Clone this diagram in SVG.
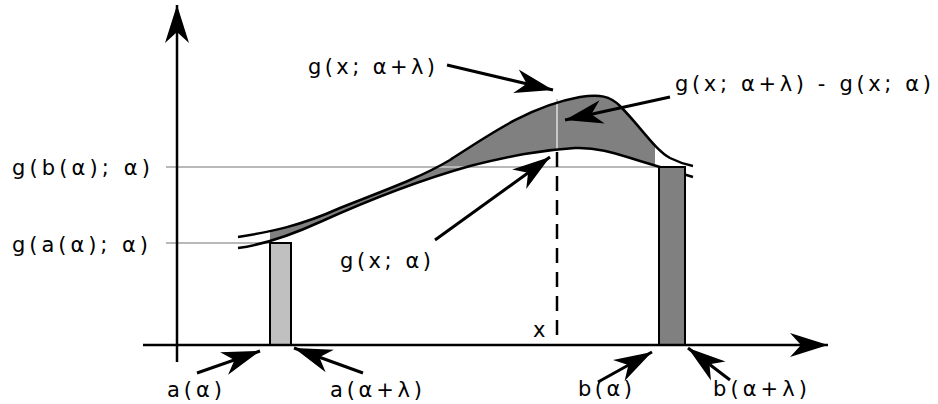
<svg xmlns="http://www.w3.org/2000/svg" width="938" height="404" viewBox="0 0 938 404">
<style>
.t{font-family:"DejaVu Sans","Liberation Sans",sans-serif;font-size:21px;fill:#000}
.guide{stroke:#b8b8b8;stroke-width:2;fill:none}
.curve{stroke:#000;stroke-width:2.5;fill:none}
.ax{stroke:#000;stroke-width:2.5;fill:none}
.arr{stroke:#000;stroke-width:3;fill:none;marker-end:url(#head)}
.bar{stroke:#000;stroke-width:2}
</style>
<defs>
<marker id="head" markerUnits="userSpaceOnUse" viewBox="-40 -14 41 28" refX="0" refY="0" markerWidth="41" markerHeight="28" orient="auto">
<path d="M0,0 L-38,-12 L-27,0 L-38,12 Z" fill="#000"/>
</marker>
<clipPath id="band"><rect x="270" y="80" width="385" height="200"/></clipPath>
</defs>
<g id="guides">
<line class="guide" x1="166" y1="243" x2="270" y2="243"/>
</g>
<g id="area">
<path clip-path="url(#band)" fill="#808080" d="M238,237 C270,232 300,226 340,208 C380,192 420,178 450,160 C490,134 530,106 580,97 C600,94 610,96 620,106 C640,126 655,150 670,158 C680,163 688,165 693,166 L693,177 C680,173 660,167 640,161 C620,155 600,147 575,148 C540,150 510,156 470,166 C420,180 360,204 320,222 C285,238 260,245 238,248 Z"/>
</g>
<g id="guides2">
<line class="guide" x1="166" y1="167" x2="659" y2="167"/>
<line stroke="#c8c8c8" stroke-width="2" x1="557" y1="99" x2="557" y2="151"/>
</g>
<g id="curve-upper">
<path class="curve" d="M238,237 C270,232 300,226 340,208 C380,192 420,178 450,160 C490,134 530,106 580,97 C600,94 610,96 620,106 C640,126 655,150 670,158 C680,163 688,165 693,166"/>
</g>
<g id="curve-lower">
<path class="curve" d="M238,248 C260,245 285,238 320,222 C360,204 420,180 470,166 C510,156 540,150 575,148 C600,147 620,155 640,161 C660,167 680,173 693,177"/>
</g>
<g id="bar-a">
<rect class="bar" x="270" y="243" width="21" height="102" fill="#c0c0c0"/>
</g>
<g id="bar-b">
<rect class="bar" x="659" y="167" width="26" height="178" fill="#808080"/>
</g>
<g id="x-line">
<line stroke="#000" stroke-width="2.5" stroke-dasharray="15 9" x1="557" y1="152" x2="557" y2="336"/>
</g>
<g id="axes">
<line class="ax" x1="177" y1="362" x2="177" y2="5" marker-end="url(#head)"/>
<line class="ax" x1="143" y1="345" x2="828" y2="345" marker-end="url(#head)"/>
</g>
<g id="connectors">
<line class="arr" x1="447" y1="65" x2="553" y2="90"/>
<line class="arr" x1="670" y1="97" x2="565" y2="120"/>
<line class="arr" x1="435" y1="240" x2="550" y2="157"/>
<line class="arr" x1="197" y1="373" x2="260" y2="351"/>
<line class="arr" x1="363" y1="373" x2="294" y2="348"/>
<line class="arr" x1="598" y1="382" x2="652" y2="352"/>
<line class="arr" x1="730" y1="380" x2="688" y2="348"/>
</g>
<g id="labels">
<text class="t" x="12" y="175" textLength="138" lengthAdjust="spacing">g(b(α); α)</text>
<text class="t" x="12" y="252" textLength="136" lengthAdjust="spacing">g(a(α); α)</text>
<text class="t" x="308" y="74" textLength="127" lengthAdjust="spacing">g(x; α+λ)</text>
<text class="t" x="675" y="91" textLength="256" lengthAdjust="spacing">g(x; α+λ) - g(x; α)</text>
<text class="t" x="340" y="268" textLength="91" lengthAdjust="spacing">g(x; α)</text>
<text class="t" x="533" y="337">x</text>
<text class="t" x="167" y="397" textLength="55" lengthAdjust="spacing">a(α)</text>
<text class="t" x="330" y="397" textLength="92" lengthAdjust="spacing">a(α+λ)</text>
<text class="t" x="578" y="396" textLength="54" lengthAdjust="spacing">b(α)</text>
<text class="t" x="713" y="396" textLength="94" lengthAdjust="spacing">b(α+λ)</text>
</g>
</svg>
